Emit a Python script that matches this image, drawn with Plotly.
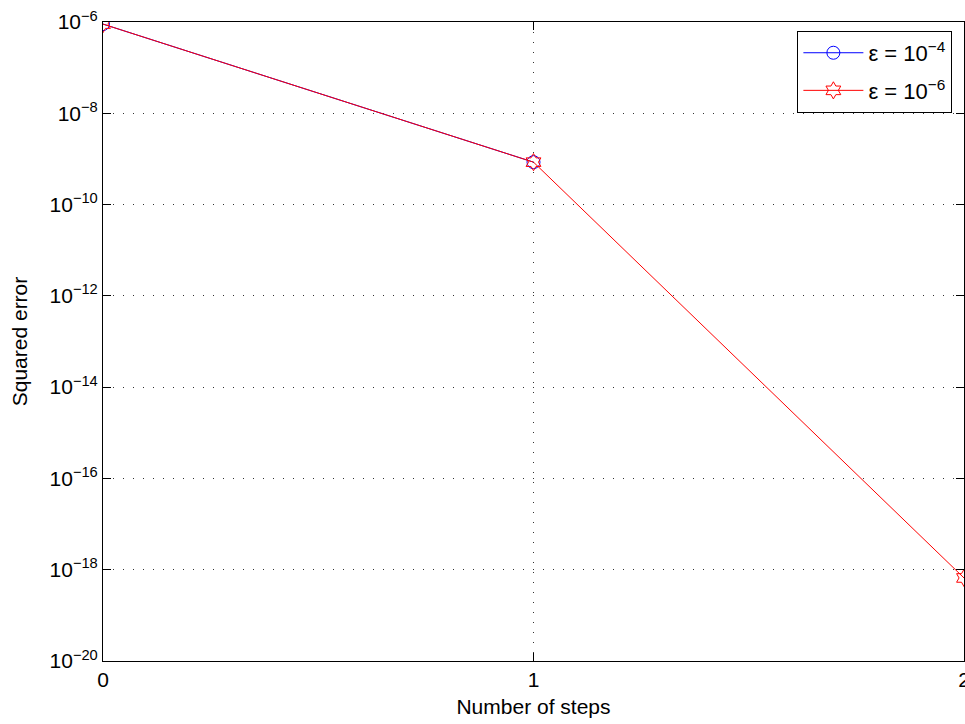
import plotly.graph_objects as go

steps_a = [0, 1]
err_a = [9.0e-7, 8.5e-10]
steps_b = [0, 1, 2]
err_b = [9.0e-7, 8.5e-10, 6.6e-19]
ytick_exp = [-20, -18, -16, -14, -12, -10, -8, -6]
xtick_vals = [0, 1, 2]

fig = go.Figure()
fig.add_trace(go.Scatter(x=steps_a, y=err_a, mode="lines+markers",
                         name="ε = 10<sup>−4</sup>", legendgroup="a",
                         line=dict(color="#0000ff", width=1),
                         marker=dict(symbol="circle-open", size=13, color="#0000ff", line=dict(width=1))))
fig.add_trace(go.Scatter(x=steps_b, y=err_b, mode="lines+markers",
                         name="ε = 10<sup>−6</sup>", legendgroup="b",
                         line=dict(color="#ff0000", width=1),
                         marker=dict(symbol="hexagram-open", size=13, color="#ff0000", line=dict(width=1))))

fig.update_layout(
    width=965, height=724,
    margin=dict(l=103, r=1, t=22, b=63),
    paper_bgcolor="white", plot_bgcolor="white",
    font=dict(family="Liberation Sans, Arial", size=21, color="black"),
    showlegend=True,
    legend=dict(x=0.9865, y=0.986, xanchor="right", yanchor="top",
                bordercolor="black", borderwidth=1, bgcolor="white",
                font=dict(size=22), itemwidth=60, tracegroupgap=6),
)
grid_dash = "1px,9px"
fig.update_xaxes(range=[0, 2], tickvals=xtick_vals, ticktext=[str(v) for v in xtick_vals],
                 showline=True, linecolor="black", linewidth=1, mirror="ticks",
                 ticks="inside", ticklen=8, tickcolor="black",
                 showgrid=True, gridcolor="#333333", griddash=grid_dash, gridwidth=1,
                 zeroline=False, ticklabeloverflow="allow", automargin=False,
                 title=dict(text="Number of steps", font=dict(size=21), standoff=9),
                 tickfont=dict(size=21))
fig.update_yaxes(type="log", range=[-20, -6],
                 tickvals=[10.0 ** e for e in ytick_exp],
                 ticktext=["10<sup>−%d</sup>" % (-e) for e in ytick_exp],
                 showline=True, linecolor="black", linewidth=1, mirror="ticks",
                 ticks="inside", ticklen=8, tickcolor="black",
                 showgrid=True, gridcolor="#333333", griddash=grid_dash, gridwidth=1,
                 zeroline=False, ticklabeloverflow="allow", automargin=False,
                 title=dict(text="Squared error", font=dict(size=21), standoff=16),
                 tickfont=dict(size=21))

fig.write_html("out.html")
